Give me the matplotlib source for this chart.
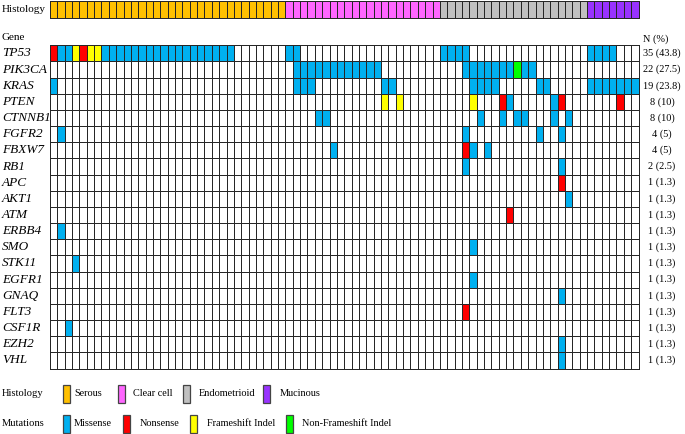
import matplotlib
matplotlib.use('Agg')
import matplotlib.pyplot as plt
from matplotlib.colors import ListedColormap
from matplotlib.patches import Rectangle
from matplotlib.transforms import blended_transform_factory
import numpy as np

plt.rcParams['font.family'] = ['Liberation Serif', 'DejaVu Serif']

# ---- data ----
n_samples = 80
histology_types = ['Serous', 'Clear cell', 'Endometrioid', 'Mucinous']
histology_counts = [32, 21, 20, 7]
histology_colors = ['#FFC000', '#FF66FF', '#C0C0C0', '#9933FF']

genes = ['TP53', 'PIK3CA', 'KRAS', 'PTEN', 'CTNNB1', 'FGFR2', 'FBXW7', 'RB1',
         'APC', 'AKT1', 'ATM', 'ERBB4', 'SMO', 'STK11', 'EGFR1', 'GNAQ',
         'FLT3', 'CSF1R', 'EZH2', 'VHL']
n_pct = ['35 (43.8)', '22 (27.5)', '19 (23.8)', '8 (10)', '8 (10)', '4 (5)',
         '4 (5)', '2 (2.5)', '1 (1.3)', '1 (1.3)', '1 (1.3)', '1 (1.3)',
         '1 (1.3)', '1 (1.3)', '1 (1.3)', '1 (1.3)', '1 (1.3)', '1 (1.3)',
         '1 (1.3)', '1 (1.3)']

mutation_types = ['Missense', 'Nonsense', 'Frameshift Indel', 'Non-Frameshift Indel']
mutation_colors = ['#00B0F0', '#FF0000', '#FFFF00', '#00FF00']

# sample columns (0-based) carrying each mutation type
missense = {
    'TP53': [1, 2, 7, 8, 9, 10, 11, 12, 13, 14, 15, 16, 17, 18, 19, 20, 21, 22,
             23, 24, 32, 33, 53, 54, 55, 56, 73, 74, 75, 76],
    'PIK3CA': [33, 34, 35, 36, 37, 38, 39, 40, 41, 42, 43, 44, 56, 57, 58, 59,
               60, 61, 62, 64, 65],
    'KRAS': [0, 33, 34, 35, 45, 46, 57, 58, 59, 60, 66, 67, 73, 74, 75, 76, 77,
             78, 79],
    'PTEN': [62, 68],
    'CTNNB1': [36, 37, 58, 61, 63, 64, 68, 70],
    'FGFR2': [1, 56, 66, 69],
    'FBXW7': [38, 57, 59],
    'RB1': [56, 69],
    'AKT1': [70],
    'ERBB4': [1],
    'SMO': [57],
    'STK11': [3],
    'EGFR1': [57],
    'GNAQ': [69],
    'CSF1R': [2],
    'EZH2': [69],
    'VHL': [69],
}
nonsense = {
    'TP53': [0, 4],
    'PTEN': [61, 69, 77],
    'FBXW7': [56],
    'APC': [69],
    'ATM': [62],
    'FLT3': [56],
}
frameshift = {
    'TP53': [3, 5, 6],
    'PTEN': [45, 47, 57],
}
nonframeshift = {
    'PIK3CA': [63],
}

# ---- build matrices ----
mat = np.zeros((len(genes), n_samples))
for code, d in enumerate([missense, nonsense, frameshift, nonframeshift], start=1):
    for g, cols in d.items():
        mat[genes.index(g), cols] = code

hist = np.repeat(np.arange(len(histology_types)), histology_counts)[None, :]

W, H = 685, 434
fig = plt.figure(figsize=(W / 100, H / 100), dpi=100)


def px_axes(x0, y0, x1, y1):
    return fig.add_axes([x0 / W, 1 - y1 / H, (x1 - x0) / W, (y1 - y0) / H])


edge = '#262626'
lw = 0.7

# histology bar
axh = px_axes(50, 0.8, 638.5, 18)
m = axh.pcolormesh(np.arange(n_samples + 1), [0, 1], hist,
                   cmap=ListedColormap(histology_colors), vmin=-0.5, vmax=3.5,
                   edgecolors=edge, linewidth=lw)
m.set_clip_on(False)
axh.set_xlim(0, n_samples)
axh.set_ylim(1, 0)
axh.axis('off')
fig.text(2 / W, 1 - 10 / H, 'Histology', fontsize=8, ha='left', va='center')

# mutation grid
ax = px_axes(50, 45.3, 638.5, 368.5)
m = ax.pcolormesh(np.arange(n_samples + 1), np.arange(len(genes) + 1), mat,
                  cmap=ListedColormap(['white'] + mutation_colors),
                  vmin=-0.5, vmax=4.5, edgecolors=edge, linewidth=lw)
m.set_clip_on(False)
ax.set_xlim(0, n_samples)
ax.set_ylim(len(genes), 0)
ax.axis('off')

tr_left = blended_transform_factory(fig.transFigure, ax.transData)
for i, (g, lab) in enumerate(zip(genes, n_pct)):
    ax.text(2 / W, i + 0.5, g, transform=tr_left, ha='left', va='center',
            fontsize=9.5, style='italic')
    ax.text(662 / W, i + 0.5, lab, transform=tr_left, ha='center',
            va='center', fontsize=7.4)

fig.text(2 / W, 1 - 38 / H, 'Gene', fontsize=8, ha='left', va='center')
fig.text(656 / W, 1 - 39 / H, 'N (%)', fontsize=7.4, ha='center', va='center')

# legends
def legend_row(y, title, labels, colors, patch_x, text_x):
    fig.text(2 / W, 1 - y / H, title, fontsize=7.6, ha='left', va='center')
    for lab, c, px, tx in zip(labels, colors, patch_x, text_x):
        fig.add_artist(Rectangle((px / W, 1 - (y + 9) / H), 7 / W, 18 / H,
                                 transform=fig.transFigure, facecolor=c,
                                 edgecolor='#444444', linewidth=0.9))
        fig.text(tx / W, 1 - y / H, lab, fontsize=7.4, ha='left', va='center')


legend_row(394, 'Histology', histology_types, histology_colors,
           [63, 118, 183, 263], [74, 133, 199, 280])
legend_row(424, 'Mutations', mutation_types, mutation_colors,
           [63, 123, 190, 286], [74, 140, 207, 302])

fig.savefig('out.png', dpi=100)
